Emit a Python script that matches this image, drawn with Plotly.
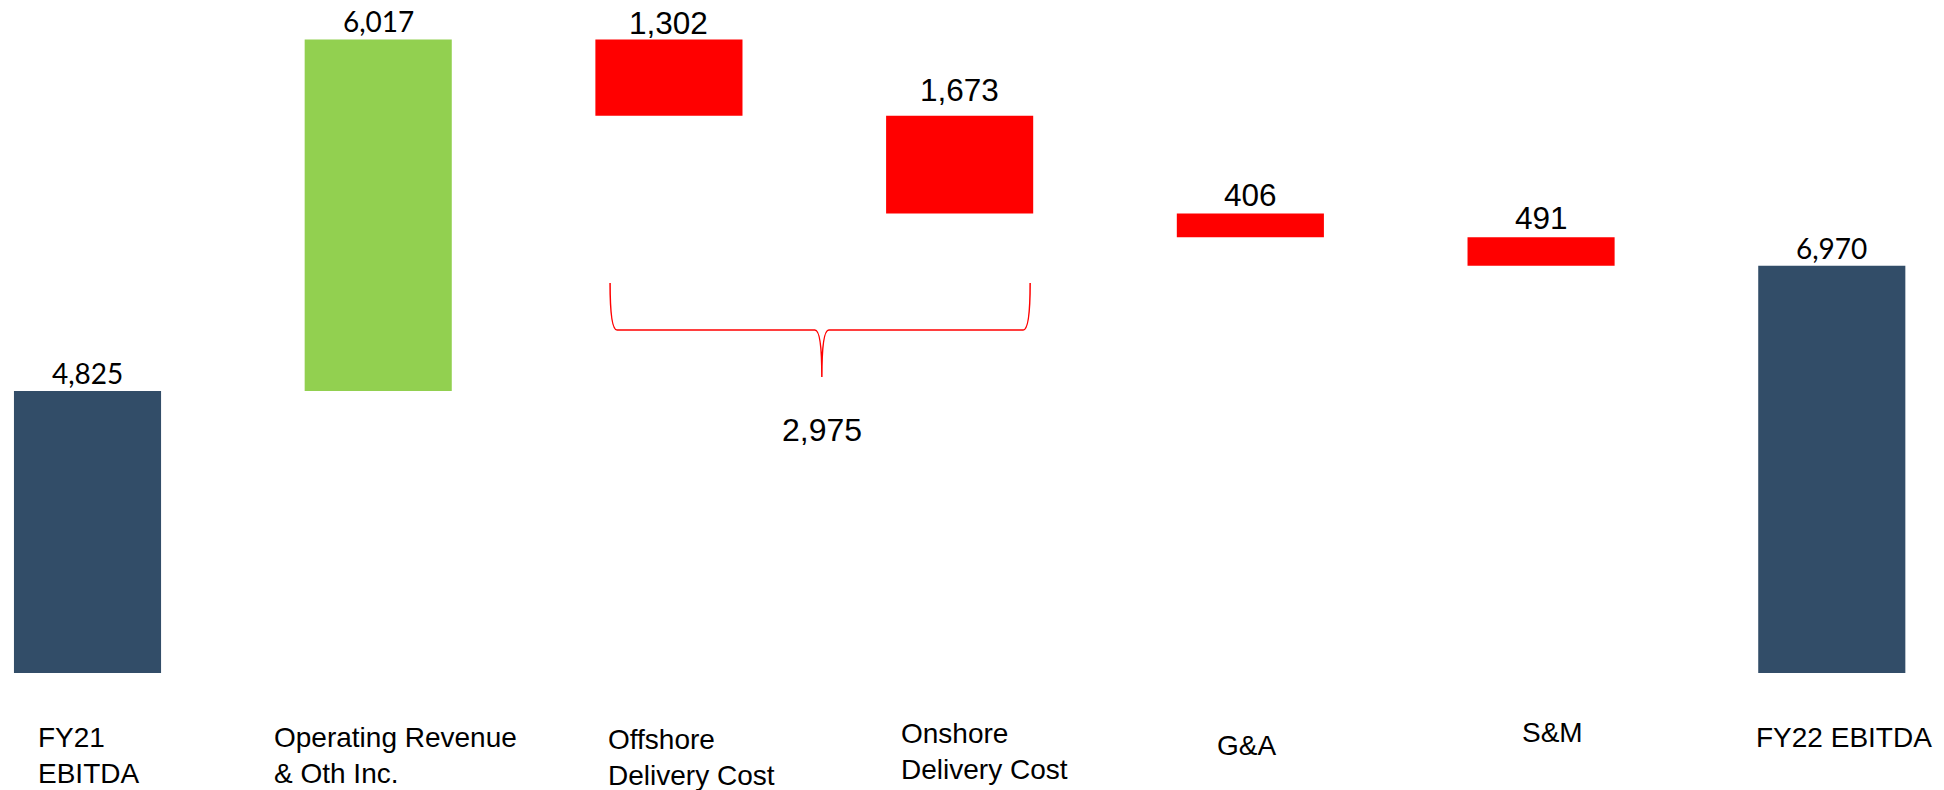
import plotly.graph_objects as go

# ---------------- data ----------------
categories = ["FY21<br>EBITDA", "Operating Revenue<br>& Oth Inc.", "Offshore<br>Delivery Cost",
              "Onshore<br>Delivery Cost", "G&A", "S&M", "FY22 EBITDA"]
values = [4825, 6017, -1302, -1673, -406, -491, 6970]
measures = ["absolute", "relative", "relative", "relative", "relative", "relative", "total"]
bracket_group = [2, 3]  # Offshore + Onshore delivery cost

# ---------------- styles ----------------
C_TOTAL = "#324d68"
C_UP = "#92d050"
C_DOWN = "#ff0000"
OFF = 8                      # page body margin of the browser
W, H = 1944 - OFF, 790 - OFF
PLOT_H = 673 - OFF
Y_MAX = 11520 * PLOT_H / 673
X_RANGE = [-0.2735, 6.386]


def paper_y(py):
    """screen pixel (reference) -> paper coordinate"""
    return 1 - (py - OFF) / PLOT_H


label_fonts = ["Lato", "Lato", "Liberation Sans", "Liberation Sans", "Liberation Sans", "Liberation Sans", "Lato"]
label_sizes = [28, 28, 31.5, 31.5, 31.5, 31.5, 28]
label_yshift = [-1, 0, -3, 6, -2, -1, -1]
cat_xshift = [-52, -106, -63, -61, -35, -21, -78]
cat_yshift = [0, 0, -2, 4, -8, 5, 0]

x = list(range(len(categories)))

fig = go.Figure(go.Waterfall(
    x=x,
    y=values,
    measure=measures,
    increasing=dict(marker=dict(color=C_UP, line=dict(width=0))),
    decreasing=dict(marker=dict(color=C_DOWN, line=dict(width=0))),
    totals=dict(marker=dict(color=C_TOTAL, line=dict(width=0))),
    connector=dict(visible=False),
    textinfo="none",
    hoverinfo="skip",
))

# bar tops computed from the data
tops = []
running = 0
for v, m in zip(values, measures):
    if m == "absolute":
        start, end = 0, v
        running = v
    elif m == "total":
        start, end = 0, running
    else:
        start, end = running, running + v
        running = end
    tops.append(max(start, end))

annotations = []
for i, (v, t) in enumerate(zip(values, tops)):
    annotations.append(dict(
        x=i, y=t, xref="x", yref="y", text=f"{abs(v):,}", showarrow=False,
        xanchor="center", yanchor="bottom", yshift=label_yshift[i],
        font=dict(family=label_fonts[i], size=label_sizes[i], color="#000000"),
    ))

# category labels (left aligned, below the bars)
for i, c in enumerate(categories):
    annotations.append(dict(
        x=i, y=paper_y(720), xref="x", yref="paper", text=c, showarrow=False,
        xanchor="left", yanchor="top", align="left", xshift=cat_xshift[i], yshift=cat_yshift[i],
        font=dict(family="Liberation Sans, Arial", size=28, color="#000000"),
    ))

# brace under the two delivery cost bars
g0, g1 = bracket_group
xL = g0 - 0.2025
xR = g1 + 0.2425
xC = (g0 + g1) / 2 + 0.026
dx = 0.024
yT = paper_y(283)
yM = paper_y(330)
yB = paper_y(377)
path = (f"M {xL},{yT} Q {xL},{yM} {xL + dx},{yM} L {xC - dx},{yM} "
        f"Q {xC},{yM} {xC},{yB} Q {xC},{yM} {xC + dx},{yM} "
        f"L {xR - dx},{yM} Q {xR},{yM} {xR},{yT}")
shapes = [dict(type="path", xref="x", yref="paper", path=path,
               line=dict(color=C_DOWN, width=1.5))]

group_sum = sum(-values[k] for k in bracket_group)
annotations.append(dict(
    x=xC, y=paper_y(430), xref="x", yref="paper", text=f"{group_sum:,}", showarrow=False,
    xanchor="center", yanchor="middle",
    font=dict(family="Liberation Sans, Arial", size=32, color="#000000"),
))

fig.update_layout(
    width=W, height=H,
    margin=dict(l=0, r=0, t=0, b=H - PLOT_H, pad=0),
    paper_bgcolor="white", plot_bgcolor="white",
    showlegend=False,
    waterfallgap=1 - 0.506,
    xaxis=dict(range=X_RANGE, visible=False, fixedrange=True),
    yaxis=dict(range=[0, Y_MAX], visible=False, fixedrange=True),
    annotations=annotations,
    shapes=shapes,
)

fig.write_html("out.html")
